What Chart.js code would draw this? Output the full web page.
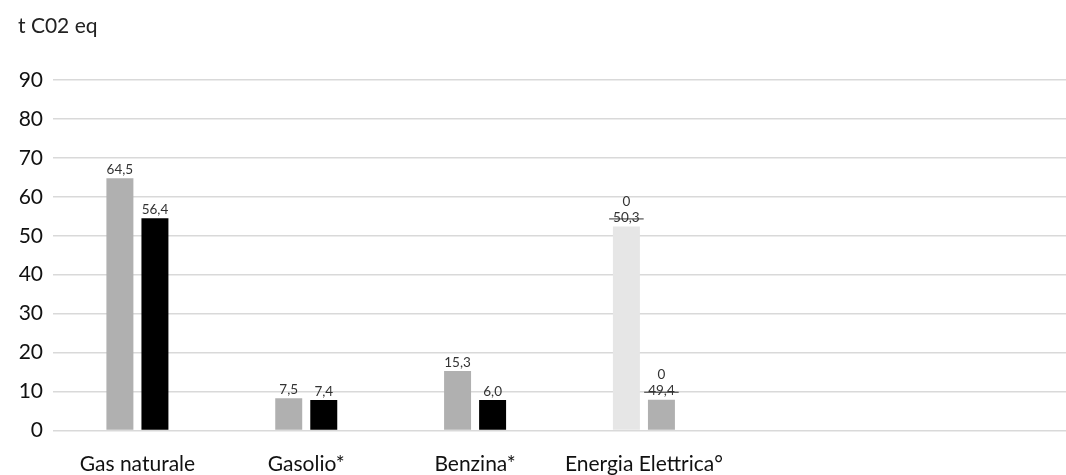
<!DOCTYPE html>
<html>
<head>
<meta charset="utf-8">
<script src="https://cdn.jsdelivr.net/npm/chart.js@4"></script>
<style>
  html, body { margin: 0; padding: 0; background: #fff; }
  #wrap { width: 1066px; height: 475px; position: relative; }
</style>
</head>
<body>
<div id="wrap"><canvas id="chart"></canvas></div>
<script>
// categories (last two slots are empty in the original)
const categories = ['Gas naturale', 'Gasolio*', 'Benzina*', 'Energia Elettrica°', '', ''];

// bar heights as drawn in the picture
const seriesA = [64.8, 8.3, 15.3, 52.4];
const seriesB = [54.5, 7.8, 7.8, 7.9];

// value labels printed above the bars
const labelsA = ['64,5', '7,5', '15,3', '50,3'];
const labelsB = ['56,4', '7,4', '6,0', '49,4'];
const notesA = ['', '', '', '0'];
const notesB = ['', '', '', '0'];
const struck = [false, false, false, true];

const colorsA = ['#b0b0b0', '#b0b0b0', '#b0b0b0', '#e6e6e6'];
const colorsB = ['#000000', '#000000', '#000000', '#b0b0b0'];

const yTicks = [0, 10, 20, 30, 40, 50, 60, 70, 80, 90];
const unitLabel = 't C02 eq';

const FONT = 'Lato, "Noto Sans", sans-serif';

const valueLabels = {
    id: 'valueLabels',
    afterDatasetsDraw(chart) {
        const ctx = chart.ctx;
        const sets = [[labelsA, notesA], [labelsB, notesB]];
        ctx.save();
        ctx.font = '13.5px ' + FONT;
        ctx.fillStyle = '#333';
        ctx.strokeStyle = '#333';
        ctx.lineWidth = 1;
        ctx.textAlign = 'center';
        ctx.textBaseline = 'bottom';
        sets.forEach(([labels, notes], di) => {
            const meta = chart.getDatasetMeta(di);
            meta.data.forEach((bar, i) => {
                const y = bar.y - 2;
                ctx.fillText(labels[i], bar.x, y);
                if (struck[i]) {
                    const w = ctx.measureText(labels[i]).width;
                    ctx.beginPath();
                    ctx.moveTo(bar.x - w / 2 - 4, y - 5.5);
                    ctx.lineTo(bar.x + w / 2 + 4, y - 5.5);
                    ctx.stroke();
                }
                if (notes[i]) {
                    ctx.fillText(notes[i], bar.x, y - 16);
                }
            });
        });
        ctx.restore();
    }
};

const unitTitle = {
    id: 'unitTitle',
    afterDraw(chart) {
        const ctx = chart.ctx;
        ctx.save();
        ctx.font = '21px ' + FONT;
        ctx.fillStyle = '#222';
        ctx.textAlign = 'left';
        ctx.textBaseline = 'alphabetic';
        ctx.fillText(unitLabel, 18, 33);
        ctx.restore();
    }
};

new Chart(document.getElementById('chart'), {
    type: 'bar',
    data: {
        labels: categories,
        datasets: [
            { data: seriesA, backgroundColor: colorsA },
            { data: seriesB, backgroundColor: colorsB }
        ]
    },
    options: {
        responsive: true,
        maintainAspectRatio: false,
        animation: false,
        layout: { padding: { top: 80, left: 0, right: 0, bottom: 0 } },
        datasets: { bar: { categoryPercentage: 0.415, barPercentage: 0.77 } },
        plugins: {
            legend: { display: false },
            tooltip: { enabled: false }
        },
        scales: {
            x: {
                grid: { display: false },
                border: { display: false },
                ticks: {
                    color: '#111',
                    font: { family: FONT, size: 21 },
                    padding: 13,
                    maxRotation: 0,
                    autoSkip: false
                },
                afterFit: s => { s.height = 44.5; }
            },
            y: {
                min: 0,
                max: 90,
                afterBuildTicks: s => { s.ticks = yTicks.map(v => ({ value: v })); },
                grid: { color: '#d9d9d9', lineWidth: 1.5, drawTicks: false },
                border: { display: false },
                ticks: {
                    color: '#111',
                    font: { family: FONT, size: 21 },
                    padding: 10
                },
                afterFit: s => { s.width = 53; }
            }
        }
    },
    plugins: [valueLabels, unitTitle]
});
</script>
</body>
</html>
